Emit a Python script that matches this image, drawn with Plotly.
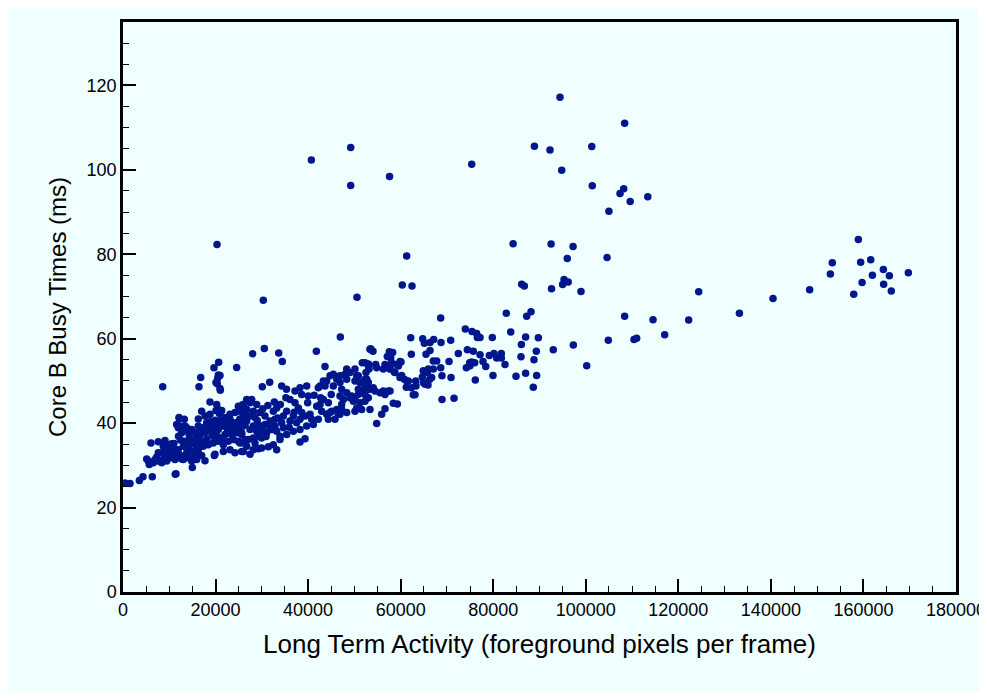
import plotly.graph_objects as go

# (foreground pixels per frame, busy time ms) pairs
left_cluster = [
    (430, 25.8), (1510, 25.7), (3530, 26.4), (4320, 27.3), (6330, 27.3), (11300, 27.9), (11450, 28.0),
    (14980, 29.5), (17720, 31.1), (5120, 31.5), (5470, 31.0), (5690, 30.2), (6920, 31.4), (7280, 32.0),
    (6550, 30.6), (7630, 31.0), (8350, 30.6), (6050, 35.3), (7630, 35.6), (9080, 35.9), (10520, 35.1),
    (8580, 48.6), (8710, 34.5), (9790, 34.9), (10870, 34.5), (11950, 33.7), (13030, 34.5), (14110, 34.1),
    (15200, 33.3), (16270, 33.7), (17350, 34.5), (18430, 34.9), (19510, 35.3), (20600, 35.7), (21680, 34.9),
    (22760, 35.7), (23840, 36.1), (24920, 35.7), (26000, 35.3), (7630, 33.0), (9080, 33.3), (10520, 32.8),
    (11950, 32.6), (12680, 32.2), (13760, 33.0), (15560, 32.6), (17000, 32.3), (19880, 32.6), (21680, 33.3),
    (23120, 33.7), (24200, 33.0), (10160, 31.8), (11240, 31.4), (9440, 31.0), (12680, 31.5), (14480, 31.8),
    (15920, 31.4), (8350, 33.0), (9080, 32.2), (9790, 32.6), (8710, 31.4), (10870, 32.2), (11590, 33.3),
    (13030, 31.4), (13760, 31.8), (14840, 31.0), (25650, 33.3), (19730, 32.3),
    (11590, 39.7), (12320, 39.3), (13030, 38.5), (13760, 38.9), (14840, 38.5), (15560, 37.7), (16640, 38.1),
    (17720, 37.7), (18800, 38.5), (19880, 38.1), (20600, 38.5), (21330, 39.3), (22410, 38.9), (23490, 38.5),
    (24570, 40.1), (25280, 40.9), (26000, 41.7), (24200, 42.5), (25280, 42.8), (25650, 44.0), (24920, 44.0),
    (26000, 44.4), (21680, 40.1), (23120, 40.9), (11950, 38.9), (13400, 39.3), (12680, 37.7), (14110, 38.1),
    (12170, 41.1), (13250, 40.9), (12100, 41.3), (16280, 41.0), (19880, 40.7), (18800, 45.0), (20240, 44.4),
    (20100, 43.0), (21330, 43.0), (20810, 42.3), (20600, 43.2), (21030, 47.8),
    (17720, 41.7), (18800, 42.1), (17000, 42.8), (18080, 40.1), (19160, 39.7), (16270, 39.3), (17350, 38.9),
    (18430, 39.3), (19880, 39.3), (20960, 39.3), (22040, 41.3), (23120, 42.1), (23840, 40.1), (24920, 39.3),
    (26000, 39.3), (23490, 37.3), (24560, 37.7), (25650, 37.3), (22040, 37.3), (20960, 36.5), (19510, 36.9),
    (17720, 35.7), (16270, 36.1), (14480, 36.1), (13400, 35.7), (15560, 34.9),
    (10200, 34.0), (11000, 35.2), (12400, 36.0), (13600, 34.8), (14700, 35.4), (15800, 36.4), (16900, 35.0),
    (18100, 36.2), (19200, 37.4), (20300, 37.0), (21400, 36.0), (22600, 37.8), (23700, 38.9), (24800, 38.2),
    (12000, 36.9), (14300, 37.2), (16600, 37.0), (18900, 40.4), (21000, 40.6), (22900, 39.8),
]

mid_cluster = [
    (26730, 45.6), (27440, 44.8), (26000, 44.4), (25280, 44.0), (28160, 42.8), (26360, 42.1), (25280, 40.9),
    (26730, 40.5), (25650, 39.3), (28160, 39.3), (29600, 39.3), (30690, 39.7), (31770, 38.9), (30330, 38.1),
    (29240, 36.9), (28160, 36.5), (26360, 36.1), (25280, 35.3), (28160, 33.7), (29960, 34.1), (32490, 34.9),
    (33930, 36.1), (35370, 37.3), (36810, 38.1), (38250, 38.5), (39690, 39.3), (41130, 39.7), (42200, 40.9),
    (38250, 40.9), (36090, 40.5), (34290, 40.1), (32850, 39.3), (26730, 34.5), (27440, 32.6),
    (34650, 38.9), (33930, 36.9), (33210, 38.1), (32130, 38.5), (31050, 37.7), (29970, 36.5), (28890, 38.1),
    (27440, 38.5), (26360, 39.7), (25650, 37.7), (27080, 36.1), (28520, 35.3), (38250, 35.5), (39330, 36.3),
    (33210, 33.7), (31410, 34.4), (29240, 33.9), (26000, 33.3),
    (36090, 45.6), (37170, 44.8), (37890, 43.6), (38610, 42.5), (39330, 41.7), (40410, 42.1), (40770, 40.9),
    (36810, 41.7), (37530, 40.1), (35370, 42.8), (34650, 41.7), (33210, 43.6), (32490, 42.8), (32850, 40.9),
    (31770, 40.5), (30690, 41.7), (29600, 42.5), (28520, 41.3), (27440, 41.7), (26730, 43.2), (26000, 43.6),
    (27810, 45.6), (28890, 44.4),
    (35330, 48.0), (37170, 47.6), (38250, 48.4), (39690, 48.8), (38610, 46.8), (40040, 46.4), (42200, 48.4),
    (42570, 48.8), (44010, 50.0), (44730, 51.2), (45450, 51.6), (46180, 50.4), (46890, 51.2), (47970, 51.6),
    (48340, 50.4), (47250, 48.0), (48340, 47.2), (49420, 46.4), (50130, 45.6), (51210, 44.8), (52290, 45.2),
    (53370, 43.2), (50850, 48.0), (43290, 45.6), (44370, 44.8), (42570, 44.4), (41860, 44.0), (42930, 42.8),
    (44010, 42.1), (45090, 42.8), (46180, 43.2), (47250, 44.4), (46530, 42.1), (44370, 40.9), (43290, 50.0),
    (43650, 48.8), (49050, 46.0), (49780, 45.2), (50850, 46.8), (46890, 46.4), (47610, 45.6), (53010, 48.0),
    (51930, 47.6), (51210, 49.6), (44730, 42.5), (46890, 42.1), (45810, 40.9), (48340, 42.5), (50130, 42.8),
    (50500, 43.6), (51570, 43.2), (47250, 43.2), (49050, 52.0), (50130, 52.8), (50850, 51.2), (50130, 50.0),
    (48340, 52.8), (46890, 49.6), (45450, 48.8), (53010, 49.6), (52290, 48.8), (50500, 51.2), (52660, 50.4),
    (30200, 43.4), (31300, 44.2), (32700, 45.0), (34000, 44.4), (35200, 46.0), (29000, 40.6), (30900, 36.8),
    (33400, 41.2), (35900, 39.0), (37000, 42.6), (39900, 44.8), (41300, 46.6), (42700, 46.0), (45000, 46.8),
]

upper_band = [
    (16790, 50.8), (16420, 48.6), (20600, 51.4), (20460, 50.6), (20100, 49.6), (20380, 49.3), (20960, 48.2),
    (20960, 51.3), (31700, 49.7), (30100, 48.6), (34290, 48.8), (20670, 54.4), (19660, 53.1), (34420, 54.6),
    (24560, 53.2), (43650, 53.4), (51710, 54.3), (53010, 54.0), (53090, 53.4), (54600, 53.9), (54820, 53.1),
    (52510, 52.0), (28030, 56.4), (30540, 57.7), (33650, 56.6), (41780, 57.0), (53520, 57.6), (54020, 57.0),
    (53370, 57.5), (46960, 60.4), (57550, 56.9), (58270, 56.7), (57110, 55.8), (57850, 55.4), (58060, 54.3),
    (57200, 53.5), (57700, 52.9), (58630, 52.1), (59140, 53.9), (60070, 54.5), (59860, 54.6), (52290, 54.3),
    (53010, 53.9), (53160, 52.8), (56620, 53.9), (56980, 53.2), (57700, 52.8), (56250, 52.8), (59500, 53.5),
    (58770, 52.0), (59860, 50.8), (60790, 50.4), (61650, 50.0), (64890, 49.6), (65980, 52.8), (52290, 50.4),
    (52660, 48.0), (53370, 48.0), (54090, 48.4), (54450, 47.6), (55530, 47.2), (56250, 47.6), (57330, 47.6),
    (56620, 46.8), (57700, 47.6), (52290, 46.8), (53010, 46.0), (58410, 44.7), (59280, 44.5), (56620, 43.4),
    (55890, 42.1), (54820, 39.9), (60220, 51.3), (61300, 50.0), (63250, 50.0), (64680, 50.9), (66270, 50.4),
    (68930, 51.2), (70880, 50.8), (61220, 48.5), (63310, 48.8), (65260, 49.2), (65910, 49.0), (62300, 48.4),
    (62730, 46.7), (63100, 46.7), (68930, 45.6), (71530, 45.9), (64890, 52.4), (67050, 52.8), (66700, 50.8),
    (62170, 60.2), (64760, 60.0), (65120, 58.9), (67140, 59.8), (68720, 59.1), (70810, 59.6), (66340, 59.1),
    (62300, 56.3), (65480, 56.3), (66340, 57.2), (72460, 56.5), (74410, 57.4), (75700, 57.0), (77150, 56.2),
    (79160, 56.0), (80170, 56.5), (80750, 55.4), (81750, 56.5), (81750, 55.4), (86000, 55.7), (89310, 57.0),
    (92980, 57.4), (88810, 55.0), (82550, 53.9), (67050, 54.7), (67780, 54.7), (70450, 54.6), (74920, 54.3),
    (76000, 54.3), (77790, 54.6), (78380, 53.4), (74190, 53.1), (74980, 53.6), (68650, 53.1), (65830, 52.5),
    (65760, 52.0), (75330, 54.5), (79950, 51.3), (84920, 51.1), (87000, 51.8), (89380, 51.3), (76130, 50.2),
    (88660, 48.5), (73970, 62.3), (75410, 61.7), (76430, 61.2), (77150, 60.3), (76570, 60.3), (79800, 60.3),
    (87000, 60.4), (89750, 60.2), (86080, 58.6), (83780, 61.6), (68650, 64.9), (82830, 66.0), (87230, 65.3),
    (88170, 66.4), (97310, 58.5), (100200, 53.6),
]

outliers = [
    (94430, 117.2), (108400, 111.0), (88900, 105.6), (92270, 104.7), (101300, 105.5), (75350, 101.3),
    (94800, 99.9), (101400, 96.2), (108200, 95.5), (107400, 94.4), (109600, 92.5), (113400, 93.6),
    (105000, 90.2), (84300, 82.5), (92500, 82.4), (97250, 81.8), (96000, 79.0), (104600, 79.2), (61300, 79.6),
    (60350, 72.7), (62450, 72.5), (86150, 72.9), (86720, 72.5), (92600, 71.8), (95300, 74.0), (95000, 72.8),
    (96200, 73.4), (98970, 71.2), (20310, 82.3), (30320, 69.1), (50560, 69.8), (40700, 102.3), (49200, 105.3),
    (49200, 96.3), (57600, 98.4),
]

far_right = [
    (124400, 71.1), (133200, 66.0), (108400, 65.3), (114530, 64.5), (122240, 64.4), (117050, 60.9),
    (104870, 59.6), (110420, 59.8), (111000, 60.1), (158900, 83.5), (153270, 78.0), (159400, 78.1),
    (161570, 78.7), (152850, 75.3), (161930, 75.0), (164300, 76.4), (165600, 74.9), (169700, 75.6),
    (159700, 73.3), (164370, 72.9), (157900, 70.5), (166020, 71.3), (148380, 71.6), (140460, 69.5),
]

x_title = "Long Term Activity (foreground pixels per frame)"
y_title = "Core B Busy Times (ms)"

all_pts = left_cluster + mid_cluster + upper_band + outliers + far_right
xs = [p[0] for p in all_pts]
ys = [p[1] for p in all_pts]

BG = "#f0ffff"
FONT = "Liberation Sans, Arial, sans-serif"
fig = go.Figure(go.Scatter(
    x=xs, y=ys, mode="markers",
    marker=dict(size=7.5, color="#00168c", line=dict(width=0)),
    showlegend=False,
))

axis_common = dict(
    showgrid=False, zeroline=False, showline=True, linecolor="black", linewidth=2.5,
    mirror=True, ticks="inside", ticklen=13, tickwidth=2, tickcolor="black",
    tickfont=dict(family=FONT, size=18, color="black"), automargin=False,
)
fig.update_xaxes(
    range=[0, 180000], tick0=0, dtick=20000, tickformat="d",
    minor=dict(ticks="inside", dtick=5000, ticklen=6, tickwidth=1, tickcolor="black"),
    title=dict(text=x_title, font=dict(family=FONT, size=26, color="black"), standoff=16),
    **axis_common,
)
fig.update_yaxes(
    range=[0, 135], tick0=0, dtick=20,
    minor=dict(ticks="inside", dtick=5, ticklen=6, tickwidth=1, tickcolor="black"),
    title=dict(text=y_title, font=dict(family=FONT, size=24, color="black"), standoff=14),
    **axis_common,
)

fig.update_layout(
    width=979, height=684,
    margin=dict(l=115, r=31, t=14, b=100),
    paper_bgcolor=BG, plot_bgcolor=BG,
)

fig.write_html("out.html")
